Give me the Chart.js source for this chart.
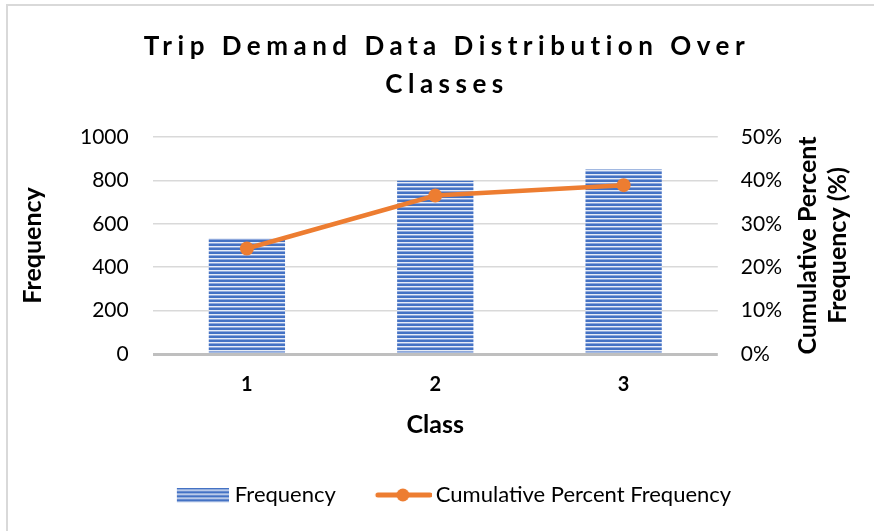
<!DOCTYPE html>
<html><head><meta charset="utf-8">
<script src="https://cdn.jsdelivr.net/npm/chart.js@4.4.0/dist/chart.umd.min.js"></script>
<style>
html,body{margin:0;padding:0;background:#fff;}
#wrap{position:relative;width:874px;height:531px;overflow:hidden;}
#frame{position:absolute;left:6px;top:4px;right:-2px;bottom:-2px;border-left:2px solid #d9d9d9;border-top:2px solid #d9d9d9;pointer-events:none;}
</style></head><body>
<div id="wrap"><canvas id="c" width="874" height="531"></canvas><div id="frame"></div></div>
<script>
const titleLines = ['Trip Demand Data Distribution Over', 'Classes'];
const categories = ['1', '2', '3'];
const frequency = [534, 798, 850];
const cumulativePercent = [24.3, 36.5, 38.9];
const xTitle = 'Class';
const yTitle = 'Frequency';
const y1Title = ['Cumulative Percent', 'Frequency (%)'];
const seriesNames = ['Frequency', 'Cumulative Percent Frequency'];

const BLUE = '#4472C4';
const ORANGE = '#ED7D31';
const FONT = 'Lato';

function makeStripe() {
  const c = document.createElement('canvas');
  c.width = 4; c.height = 4;
  const g = c.getContext('2d');
  g.fillStyle = BLUE; g.fillRect(0, 0, 4, 2);
  g.fillStyle = '#e6ecf7'; g.fillRect(0, 2, 4, 1);
  g.fillStyle = '#8ea8dc'; g.fillRect(0, 3, 4, 1);
  return c;
}
const stripeTile = makeStripe();
const ctx0 = document.getElementById('c').getContext('2d');
const stripePattern = ctx0.createPattern(stripeTile, 'repeat');

// legend icons (box width 84; images extend a little past the box on the right)
function barIcon() {
  const c = document.createElement('canvas');
  c.width = 94; c.height = 15;
  const g = c.getContext('2d');
  g.fillStyle = g.createPattern(stripeTile, 'repeat');
  g.fillRect(42, 0, 52, 15);
  return c;
}
function lineIcon() {
  const c = document.createElement('canvas');
  c.width = 98; c.height = 16;
  const g = c.getContext('2d');
  g.strokeStyle = ORANGE; g.lineWidth = 5; g.lineCap = 'round';
  g.beginPath(); g.moveTo(44, 8); g.lineTo(96, 8); g.stroke();
  g.fillStyle = ORANGE;
  g.beginPath(); g.arc(69, 8, 6.5, 0, Math.PI * 2); g.fill();
  return c;
}

const titlePlugin = {
  id: 'customTitle',
  afterDraw(chart) {
    const ctx = chart.ctx;
    ctx.save();
    ctx.fillStyle = '#000';
    ctx.font = 'bold 26px ' + FONT;
    ctx.textAlign = 'center';
    ctx.textBaseline = 'middle';
    ctx.letterSpacing = '5.5px';
    ctx.fillText(titleLines[0], 447, 47);
    ctx.fillText(titleLines[1], 447, 85);
    ctx.restore();
    // right axis title, rotated to read bottom-to-top
    const s = chart.scales.y1;
    const lh = 30;
    const cx = s.right - 4 - lh;
    const cy = (chart.chartArea.top + chart.chartArea.bottom) / 2;
    ctx.save();
    ctx.translate(cx, cy);
    ctx.rotate(-Math.PI / 2);
    ctx.fillStyle = '#000';
    ctx.font = 'bold 25px ' + FONT;
    ctx.textAlign = 'center';
    ctx.textBaseline = 'middle';
    ctx.fillText(y1Title[0], 0, -lh / 2);
    ctx.fillText(y1Title[1], 0, lh / 2);
    ctx.restore();
  }
};

new Chart(document.getElementById('c'), {
  data: {
    labels: categories,
    datasets: [
      {
        type: 'bar', label: seriesNames[0], data: frequency, yAxisID: 'y',
        backgroundColor: stripePattern, borderWidth: 0,
        barPercentage: 0.405, categoryPercentage: 1, order: 1
      },
      {
        type: 'line', label: seriesNames[1], data: cumulativePercent, yAxisID: 'y1',
        borderColor: ORANGE, backgroundColor: ORANGE, borderWidth: 4.5,
        pointRadius: 7, pointBackgroundColor: ORANGE, pointBorderWidth: 0,
        tension: 0, order: 0
      }
    ]
  },
  options: {
    responsive: false, animation: false,
    layout: { padding: { top: 137, left: 14, right: 17, bottom: 15 } },
    plugins: {
      title: { display: false },
      tooltip: { enabled: false },
      legend: {
        position: 'bottom',
        labels: {
          usePointStyle: true, pointStyleWidth: 84, padding: 5,
          color: '#000', font: { family: FONT, size: 22 },
          generateLabels: () => [
            { text: seriesNames[0], pointStyle: barIcon(), fillStyle: BLUE, strokeStyle: BLUE, lineWidth: 0, datasetIndex: 0, fontColor: '#000' },
            { text: seriesNames[1], pointStyle: lineIcon(), fillStyle: ORANGE, strokeStyle: ORANGE, lineWidth: 0, datasetIndex: 1, fontColor: '#000' }
          ]
        }
      }
    },
    scales: {
      x: {
        grid: { display: false, drawTicks: false }, border: { display: false },
        ticks: { color: '#000', font: { family: FONT, size: 20, weight: 'bold' }, padding: 19 },
        title: { display: true, text: xTitle, color: '#000', font: { family: FONT, size: 25, weight: 'bold' }, padding: { top: -6, bottom: 39 } }
      },
      y: {
        position: 'left', min: 0, max: 1000,
        ticks: { stepSize: 200, padding: 24, color: '#000', font: { family: FONT, size: 21 }, callback: v => String(v) },
        grid: { drawTicks: false, color: c => c.tick && c.tick.value === 0 ? '#bfbfbf' : '#d9d9d9', lineWidth: c => c.tick && c.tick.value === 0 ? 3 : 1.5 },
        border: { display: false },
        title: { display: true, text: yTitle, color: '#000', font: { family: FONT, size: 25, weight: 'bold' }, padding: { top: 4, bottom: 8 } }
      },
      y1: {
        position: 'right', min: 0, max: 50,
        ticks: { stepSize: 10, padding: 23, color: '#000', font: { family: FONT, size: 21 }, callback: v => v + '%' },
        grid: { display: false, drawTicks: false }, border: { display: false },
        title: { display: true, text: y1Title, color: 'rgba(0,0,0,0)', font: { family: FONT, size: 20, weight: 'bold' }, padding: { top: 4, bottom: 0 } }
      }
    }
  },
  plugins: [titlePlugin]
});
</script>
</body></html>
